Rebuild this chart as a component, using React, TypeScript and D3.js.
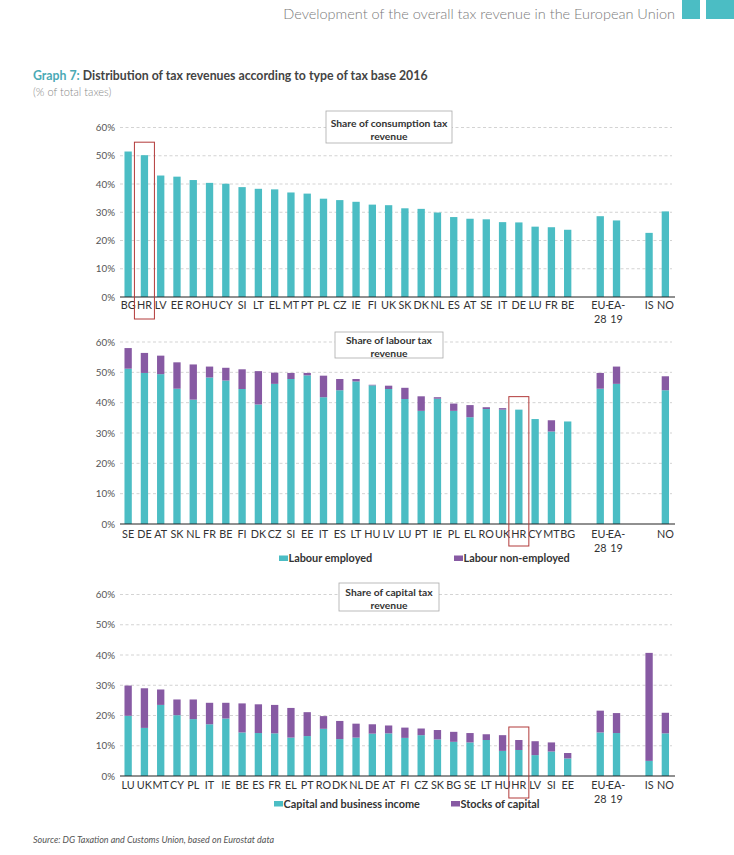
import { scaleBand, scaleLinear, format } from 'd3'

const TEAL = '#4bbdc4'
const PURPLE = '#875aa3'
const RED = '#b23a3a'
const FONT = 'Lato, "Open Sans", sans-serif'

const yTicks = [0, 10, 20, 30, 40, 50, 60]
const aggregates = ['EU-28', 'EA-19']
const nonEU = ['IS', 'NO']

// consumption
const consumptionCountries = ['BG', 'HR', 'LV', 'EE', 'RO', 'HU', 'CY', 'SI', 'LT', 'EL', 'MT', 'PT', 'PL', 'CZ', 'IE', 'FI', 'UK', 'SK', 'DK', 'NL', 'ES', 'AT', 'SE', 'IT', 'DE', 'LU', 'FR', 'BE']
const consumptionValues = [51.5, 50.2, 43.0, 42.6, 41.4, 40.4, 40.1, 38.9, 38.3, 38.1, 37.0, 36.6, 34.8, 34.3, 33.7, 32.7, 32.5, 31.4, 31.2, 29.9, 28.3, 27.7, 27.5, 26.5, 26.4, 24.9, 24.7, 23.8]
const consumptionAggregates = [28.6, 27.1]
const consumptionNonEU = [22.7, 30.3]

// labour
const labourCountries = ['SE', 'DE', 'AT', 'SK', 'NL', 'FR', 'BE', 'FI', 'DK', 'CZ', 'SI', 'EE', 'IT', 'ES', 'LT', 'HU', 'LV', 'LU', 'PT', 'IE', 'PL', 'EL', 'RO', 'UK', 'HR', 'CY', 'MT', 'BG']
const labourEmployed = [51.2, 49.8, 49.4, 44.6, 41.0, 48.3, 47.3, 44.5, 39.4, 46.2, 47.8, 49.0, 41.8, 44.1, 47.0, 45.7, 44.5, 41.2, 37.3, 41.3, 37.3, 35.2, 37.9, 37.7, 37.7, 34.6, 30.5, 33.8]
const labourNonEmployed = [6.8, 6.6, 6.1, 8.7, 11.6, 3.6, 4.2, 6.5, 11.0, 3.7, 2.0, 0.8, 7.1, 3.7, 0.8, 0.2, 1.1, 3.7, 4.8, 0.5, 2.4, 4.0, 0.6, 0.5, 0, 0, 3.7, 0]
const labourAggEmployed = [44.6, 46.2]
const labourAggNonEmployed = [5.2, 5.7]
const labourNonEUEmployed = [null, 44.1]
const labourNonEUNonEmployed = [0, 4.6]

// capital
const capitalCountries = ['LU', 'UK', 'MT', 'CY', 'PL', 'IT', 'IE', 'BE', 'ES', 'FR', 'EL', 'PT', 'RO', 'DK', 'NL', 'DE', 'AT', 'FI', 'CZ', 'SK', 'BG', 'SE', 'LT', 'HU', 'HR', 'LV', 'SI', 'EE']
const capitalIncome = [19.9, 15.9, 23.5, 20.1, 18.8, 17.1, 19.0, 14.4, 14.2, 14.1, 12.7, 13.2, 15.6, 12.2, 12.7, 14.0, 14.1, 12.6, 13.5, 12.1, 11.3, 11.1, 11.9, 8.3, 8.6, 6.9, 8.1, 5.8]
const capitalStocks = [10.0, 13.1, 5.1, 5.2, 6.5, 7.1, 5.2, 9.6, 9.5, 9.4, 9.8, 7.9, 4.2, 6.0, 4.6, 3.1, 2.6, 3.4, 2.2, 3.1, 3.3, 3.1, 1.9, 5.2, 3.3, 4.6, 3.0, 1.8]
const capitalAggIncome = [14.4, 14.2]
const capitalAggStocks = [7.2, 6.6]
const capitalNonEUIncome = [5.0, 14.1]
const capitalNonEUStocks = [35.7, 6.8]

type Bar = { key: string; label: string; a: number | null; b: number }

function buildBars(countries: string[], a: (number | null)[], b: number[], aggA: (number | null)[], aggB: number[], neA: (number | null)[], neB: number[]): Bar[] {
  const bars: Bar[] = countries.map((c, i) => ({ key: c, label: c, a: a[i], b: b[i] ?? 0 }))
  bars.push({ key: 'gap1', label: '', a: null, b: 0 })
  aggregates.forEach((c, i) => bars.push({ key: c, label: c, a: aggA[i], b: aggB[i] ?? 0 }))
  bars.push({ key: 'gap2', label: '', a: null, b: 0 })
  nonEU.forEach((c, i) => bars.push({ key: c, label: neA[i] == null ? '' : c, a: neA[i], b: neB[i] ?? 0 }))
  return bars
}

type PanelProps = {
  bars: Bar[]
  top: number
  bottom: number
  title: [string, string]
  boxWidth: number
  boxTop: number
  boxHeight: number
  titleDy: number
  labelOffset: number
  legend?: { y: number; items: { x: number; color: string; text: string }[] }
}

const pct = format('d')

function Panel({ bars, top, bottom, title, boxWidth, boxTop, boxHeight, titleDy, labelOffset, legend }: PanelProps) {
  const x = scaleBand<string>()
    .domain(bars.map((d) => d.key))
    .range([120, 673.5])
    .paddingInner(0.55)
    .paddingOuter(0.275)
  const y = scaleLinear().domain([0, 60]).range([bottom, top])
  const hr = bars.find((d) => d.key === 'HR')!
  const hrX = x('HR')! + x.bandwidth() / 2
  const hrTop = y((hr.a ?? 0) + hr.b)

  return (
    <g>
      {yTicks.map((t) => (
        <g key={t}>
          {t > 0 && <line x1={120} x2={672} y1={y(t)} y2={y(t)} stroke="#c8c8c8" strokeWidth={0.8} strokeDasharray="3,2.5" />}
          <text x={115} y={y(t) + 3.5} textAnchor="end" fontSize={9.8} fill="#555">
            {pct(t)}%
          </text>
        </g>
      ))}
      {bars.map((d) =>
        d.a == null ? null : (
          <g key={d.key}>
            <rect x={x(d.key)} width={x.bandwidth()} y={y(d.a)} height={y(0) - y(d.a)} fill={TEAL} />
            {d.b > 0 && <rect x={x(d.key)} width={x.bandwidth()} y={y(d.a + d.b)} height={y(d.a) - y(d.a + d.b)} fill={PURPLE} />}
          </g>
        )
      )}
      <line x1={120} x2={675} y1={bottom} y2={bottom} stroke="#222" strokeWidth={1.2} />
      {bars.map((d) => {
        const cx = x(d.key)! + x.bandwidth() / 2
        const parts = d.label.includes('-') ? [d.label.split('-')[0] + '-', d.label.split('-')[1]] : [d.label]
        return (
          <text key={d.key} x={cx} y={bottom + labelOffset} textAnchor="middle" fontSize={10.8} fill="#333">
            {parts.map((p, i) => (
              <tspan key={i} x={cx} dy={i === 0 ? 0 : 14}>
                {p}
              </tspan>
            ))}
          </text>
        )
      })}
      <rect x={389 - boxWidth / 2} y={boxTop} width={boxWidth} height={boxHeight} fill="#fff" stroke="#aaa" strokeWidth={0.8} />
      <text x={389} y={boxTop + titleDy} textAnchor="middle" fontSize={10.3} fontWeight="bold" fill="#333">
        {title[0]}
      </text>
      <text x={389} y={boxTop + titleDy + 13} textAnchor="middle" fontSize={10.3} fontWeight="bold" fill="#333">
        {title[1]}
      </text>
      <rect x={hrX - 10} y={hrTop - 13} width={20} height={bottom + 22 - (hrTop - 13)} fill="none" stroke={RED} strokeWidth={1} />
      {legend &&
        legend.items.map((it) => (
          <g key={it.text}>
            <rect x={it.x} y={legend.y - 3} width={9} height={5.5} fill={it.color} />
            <text x={it.x + 9.5} y={legend.y + 3.8} fontSize={10.9} fontWeight="bold" fill="#333">
              {it.text}
            </text>
          </g>
        ))}
    </g>
  )
}

export default function App() {
  const consumption = buildBars(consumptionCountries, consumptionValues, [], consumptionAggregates, [], consumptionNonEU, [])
  const labour = buildBars(labourCountries, labourEmployed, labourNonEmployed, labourAggEmployed, labourAggNonEmployed, labourNonEUEmployed, labourNonEUNonEmployed)
  const capital = buildBars(capitalCountries, capitalIncome, capitalStocks, capitalAggIncome, capitalAggStocks, capitalNonEUIncome, capitalNonEUStocks)

  return (
    <svg width={734} height={855} style={{ position: 'absolute', left: 0, top: 0, background: '#fff' }} fontFamily={FONT}>
      <rect width={734} height={855} fill="#fff" />
      <text x={675} y={19} textAnchor="end" fontSize={14.5} fontWeight={300} fill="#7a7a7a">
        Development of the overall tax revenue in the European Union
      </text>
      <rect x={682} y={0} width={18} height={19} fill={TEAL} />
      <rect x={706} y={0} width={28} height={19} fill={TEAL} />
      <text x={33} y={80} fontSize={12.3} fontWeight="bold" fill="#444">
        <tspan fill="#4aaab5">Graph 7:</tspan> Distribution of tax revenues according to type of tax base 2016
      </text>
      <text x={33} y={96} fontSize={11} fontWeight={300} fill="#8a8a8a">
        (% of total taxes)
      </text>

      <Panel bars={consumption} top={127.5} bottom={297} title={['Share of consumption tax', 'revenue']} boxWidth={126} boxTop={111} boxHeight={32} titleDy={16} labelOffset={12} />
      <Panel
        bars={labour}
        top={342}
        bottom={524}
        title={['Share of labour tax', 'revenue']}
        boxWidth={108}
        boxTop={332}
        boxHeight={26}
        titleDy={11.5}
        labelOffset={14}
        legend={{ y: 558.5, items: [{ x: 279, color: TEAL, text: 'Labour employed' }, { x: 454, color: PURPLE, text: 'Labour non-employed' }] }}
      />
      <Panel
        bars={capital}
        top={594.5}
        bottom={776}
        title={['Share of capital tax', 'revenue']}
        boxWidth={100}
        boxTop={583}
        boxHeight={28}
        titleDy={12.5}
        labelOffset={13}
        legend={{ y: 804, items: [{ x: 274, color: TEAL, text: 'Capital and business income' }, { x: 451, color: PURPLE, text: 'Stocks of capital' }] }}
      />

      <text x={33} y={843} fontSize={9} fontStyle="italic" fill="#555">
        Source: DG Taxation and Customs Union, based on Eurostat data
      </text>
    </svg>
  )
}
